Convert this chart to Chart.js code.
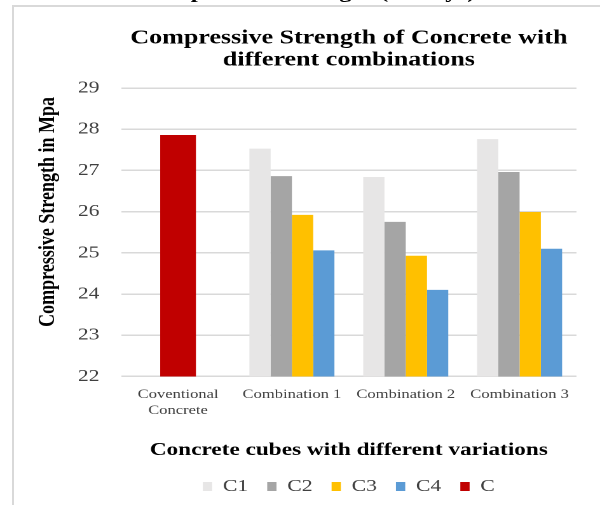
<!DOCTYPE html>
<html lang="en">
<head>
<meta charset="UTF-8">
<title>Compressive Strength of Concrete with different combinations</title>
<script src="https://cdn.jsdelivr.net/npm/chart.js"></script>
<style>
  html, body { margin: 0; padding: 0; background: #fff; }
  body {
    width: 600px;
    height: 505px;
    overflow: hidden;
    position: relative;
    font-family: 'Liberation Serif', 'Times New Roman', serif;
  }
  .frame {
    position: absolute;
    left: 12px;
    top: 5px;
    width: 700px;
    height: 600px;
    border-left: 2px solid #d9d9d9;
    border-top: 2px solid #d9d9d9;
  }
  /* the source picture is stretched sideways, so the whole chart is too */
  .stretch {
    position: absolute;
    left: 0;
    top: 0;
    width: 472px;
    height: 505px;
    transform: scaleX(1.2712);
    transform-origin: 0 0;
  }
  .caption {
    position: absolute;
    left: 110px;
    top: -18px;
    font-size: 19.5px;
    font-weight: bold;
    line-height: 20px;
    white-space: nowrap;
  }
  .chart-box {
    position: absolute;
    left: 0;
    top: 0;
    width: 472px;
    height: 505px;
  }
</style>
</head>
<body>
  <div class="frame"></div>
  <div class="stretch">
    <div class="caption">Compressive Strength (28 days)</div>
    <div class="chart-box"><canvas id="strengthChart"></canvas></div>
  </div>

<script>
  const categories = [['Coventional', 'Concrete'], 'Combination 1', 'Combination 2', 'Combination 3'];
  const c1 = [null, 27.53, 26.84, 27.76];
  const c2 = [null, 26.86, 25.75, 26.96];
  const c3 = [null, 25.92, 24.93, 25.99];
  const c4 = [null, 25.06, 24.10, 25.10];
  const c  = [27.86, null, null, null];
  const yMin = 22;
  const yMax = 29;
  const yStep = 1;

  const serif = "'Liberation Serif', 'Times New Roman', serif";
  Chart.defaults.font.family = serif;

  const ctx = document.getElementById('strengthChart').getContext('2d');
  new Chart(ctx, {
    type: 'bar',
    data: {
      labels: categories,
      datasets: [
        { label: 'C1', data: c1, backgroundColor: '#e7e6e6' },
        { label: 'C2', data: c2, backgroundColor: '#a5a5a5' },
        { label: 'C3', data: c3, backgroundColor: '#ffc000' },
        { label: 'C4', data: c4, backgroundColor: '#5b9bd5' },
        { label: 'C',  data: c,  backgroundColor: '#c00000', maxBarThickness: 28.1 }
      ]
    },
    options: {
      responsive: true,
      maintainAspectRatio: false,
      animation: false,
      devicePixelRatio: 2,
      datasets: {
        bar: {
          skipNull: true,
          borderWidth: 0,
          categoryPercentage: 0.747,
          barPercentage: 1
        }
      },
      layout: { padding: { left: 0, right: 18.5, top: 0, bottom: 0 } },
      plugins: {
        title: {
          display: true,
          fullSize: false,
          text: ['Compressive Strength of Concrete with', 'different combinations'],
          color: '#000',
          font: { size: 20.5, weight: 'bold', lineHeight: 22 / 20.5 },
          padding: { top: 27, bottom: 17 }
        },
        legend: {
          position: 'bottom',
          fullSize: false,
          labels: {
            boxWidth: 7.3,
            boxHeight: 9,
            padding: 15,
            color: '#404040',
            font: { size: 17 }
          }
        },
        tooltip: { enabled: false }
      },
      scales: {
        x: {
          grid: { display: false, drawTicks: false },
          border: { display: false },
          ticks: {
            padding: 10,
            maxRotation: 0,
            autoSkip: false,
            color: '#404040',
            font: { size: 13, lineHeight: 16 / 13 }
          },
          title: {
            display: true,
            text: 'Concrete cubes with different variations',
            color: '#000',
            font: { size: 18.3, weight: 'bold' },
            padding: { top: 11, bottom: 1.6 }
          }
        },
        y: {
          min: yMin,
          max: yMax,
          grid: {
            color: '#d9d9d9',
            lineWidth: 1.5,
            drawTicks: true,
            tickLength: 12,
            tickColor: 'rgba(0,0,0,0)'
          },
          border: { display: false },
          ticks: {
            stepSize: yStep,
            padding: 5,
            color: '#404040',
            font: { size: 17 }
          },
          title: {
            display: true,
            // trailing spaces nudge the rotated title down a little
            text: 'Compressive Strength in Mpa  ',
            align: 'end',
            color: '#000',
            font: { size: 18, weight: 'bold' },
            padding: { top: 27, bottom: 7.7 }
          }
        }
      }
    }
  });
</script>
</body>
</html>
